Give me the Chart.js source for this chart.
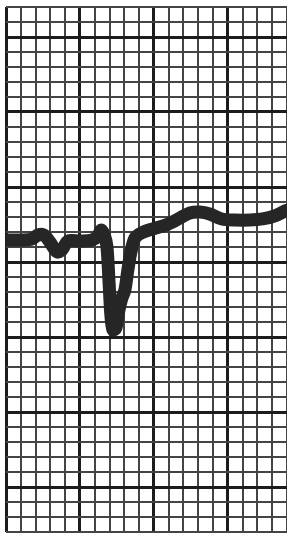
<!DOCTYPE html>
<html>
<head>
<meta charset="utf-8">
<script src="https://cdn.jsdelivr.net/npm/chart.js@4/dist/chart.umd.min.js"></script>
<style>
html,body{margin:0;padding:0;background:#fff;overflow:hidden;}
canvas{display:block;}
</style>
</head>
<body>
<canvas id="c" width="287" height="533"></canvas>
<script>
const timeMm = [0, 0.95, 1.76, 2.16, 2.57, 2.97, 3.45, 3.78, 4.19, 5.0, 5.81, 6.22, 6.42, 6.62, 6.82, 6.96, 7.09, 7.23, 7.43, 7.64, 7.84, 8.04, 8.24, 8.45, 8.72, 9.19, 10.07, 10.88, 11.76, 12.43, 13.11, 13.78, 14.59, 15.47, 16.49, 17.36, 18.18, 18.72, 18.99];
const voltMm = [19.47, 19.47, 19.53, 19.8, 19.8, 19.33, 18.67, 18.8, 19.4, 19.4, 19.47, 19.73, 20.13, 19.87, 19.07, 16.8, 14.47, 13.47, 13.6, 14.8, 15.6, 16.13, 17.47, 18.67, 19.6, 19.95, 20.25, 20.5, 20.93, 21.27, 21.33, 21.2, 20.87, 20.8, 20.8, 20.87, 21.07, 21.33, 21.45];
// grid lines (one per small box)
const xTicks = [0,1,2,3,4,5,6,7,8,9,10,11,12,13,14,15,16,17,18,19];
const yTicks = [0,1,2,3,4,5,6,7,8,9,10,11,12,13,14,15,16,17,18,19,20,21,22,23,24,25,26,27,28,29,30,31,32,33,34,35];
const xMajorTicks = [0,5,10,15];
const yMajorTicks = [3,8,13,18,23,28,33];

const points = timeMm.map((t, i) => ({x: t, y: voltMm[i]}));

function gridStyle(majors) {
  const isMajor = (ctx) => ctx.tick && majors.includes(Math.round(ctx.tick.value));
  return {
    drawTicks: false,
    color: (ctx) => isMajor(ctx) ? '#1c1c1c' : '#444444',
    lineWidth: (ctx) => isMajor(ctx) ? 3 : 2
  };
}

new Chart(document.getElementById('c'), {
  type: 'line',
  data: {
    datasets: [{
      data: points,
      borderColor: '#262626',
      borderWidth: 13,
      pointRadius: 0,
      tension: 0.3,
      borderJoinStyle: 'round',
      borderCapStyle: 'round',
      fill: false
    }]
  },
  options: {
    responsive: false,
    animation: false,
    devicePixelRatio: 1,
    layout: {padding: {left: 6, top: 7, right: 0, bottom: 1}},
    plugins: {legend: {display: false}, tooltip: {enabled: false}},
    scales: {
      x: {
        type: 'linear',
        min: xTicks[0], max: xTicks[xTicks.length - 1],
        ticks: {display: false},
        afterBuildTicks: (scale) => { scale.ticks = xTicks.map(v => ({value: v})); },
        border: {display: false},
        grid: gridStyle(xMajorTicks)
      },
      y: {
        type: 'linear',
        min: yTicks[0], max: yTicks[yTicks.length - 1],
        ticks: {display: false},
        afterBuildTicks: (scale) => { scale.ticks = yTicks.map(v => ({value: v})); },
        border: {display: false},
        grid: gridStyle(yMajorTicks)
      }
    }
  }
});
</script>
</body>
</html>
